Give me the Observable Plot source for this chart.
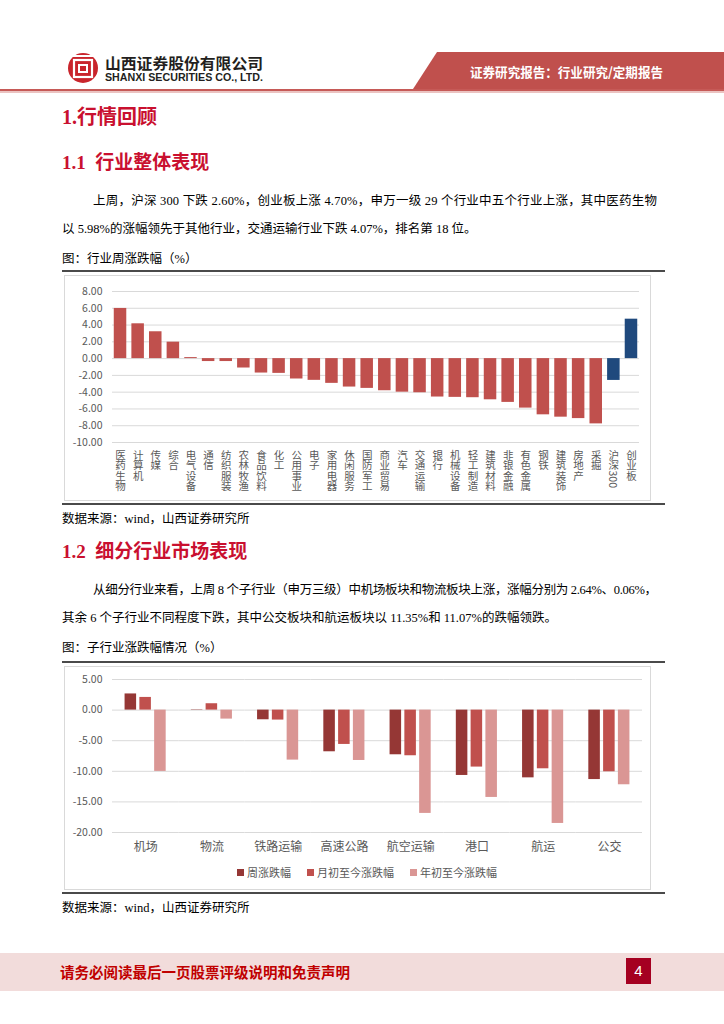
<!DOCTYPE html>
<html><head><meta charset="utf-8">
<script src="https://cdn.jsdelivr.net/npm/d3@7"></script>
<script src="https://cdn.jsdelivr.net/npm/@observablehq/plot@0.6"></script>
<style>
html,body{margin:0;padding:0;background:#fff}
body{width:724px;height:1024px;position:relative;overflow:hidden;font-family:"Liberation Serif","Noto Sans CJK SC",serif;color:#000}
.t{position:absolute;white-space:nowrap}
.h1{font-size:20px;line-height:24px;font-weight:bold;color:#C9102F}
.h2{font-size:19px;line-height:24px;font-weight:bold;color:#C9102F}
.p{font-size:12.5px;line-height:16px}
.cap{font-size:12.5px;line-height:16px;font-family:"Liberation Serif","Noto Sans CJK SC",sans-serif}
.dark{position:absolute;left:62px;width:603px;height:2px;background:#4a4a4a}
.box{position:absolute;left:64px;width:587px;border:1px solid #D9D9D9;box-sizing:border-box}
.chart{position:absolute;left:64px}
.legend{position:absolute;top:864px;left:237px;height:16px;display:flex;align-items:center;font-family:"Noto Sans CJK SC",sans-serif;font-size:11px;color:#595959}
.legend span.sw{display:inline-block;width:7px;height:7px;margin-right:3px}
.legend span.item{display:inline-flex;align-items:center;margin-right:16px}
</style></head>
<body>
<svg class="t" style="left:0;top:0" width="724" height="100">
  <circle cx="83" cy="68" r="15" fill="#C9252C"/>
  <rect x="74" y="60" width="18" height="17" fill="none" stroke="#fff" stroke-width="2.2"/>
  <rect x="79" y="65" width="8" height="7" fill="none" stroke="#fff" stroke-width="2"/>
  <line x1="71" y1="56" x2="95" y2="56" stroke="#fff" stroke-width="2"/>
  <text x="105" y="69" textLength="158" lengthAdjust="spacingAndGlyphs" font-family="Noto Sans CJK SC" font-weight="bold" font-size="15" fill="#231F20">山西证券股份有限公司</text>
  <text x="105" y="81" textLength="158" lengthAdjust="spacingAndGlyphs" font-family="Liberation Sans" font-weight="bold" font-size="11" fill="#231F20">SHANXI SECURITIES CO., LTD.</text>
  <polygon points="437,52 724,52 724,89 413,89" fill="#C0504D"/>
  <text x="470" y="77" textLength="193" lengthAdjust="spacingAndGlyphs" font-family="Noto Sans CJK SC" font-weight="bold" font-size="13" fill="#fff">证券研究报告：行业研究/定期报告</text>
  <rect x="0" y="89" width="724" height="2" fill="#C65A57"/>
  <rect x="0" y="91" width="724" height="2" fill="#EBC3C1"/>
</svg>

<div class="t h1" style="left:62px;top:105px">1.行情回顾</div>
<div class="t h2" style="left:62px;top:151px">1.1&nbsp;&nbsp;行业整体表现</div>
<svg class="t" style="left:93px;top:190px" width="570" height="20"><text x="0" y="14.5" textLength="564" lengthAdjust="spacing" font-family="Liberation Serif, Noto Sans CJK SC" font-size="12.5" fill="#000">上周，沪深 300 下跌 2.60%，创业板上涨 4.70%，申万一级 29 个行业中五个行业上涨，其中医药生物</text></svg>
<div class="t p" style="left:62px;top:221px">以 5.98%的涨幅领先于其他行业，交通运输行业下跌 4.07%，排名第 18 位。</div>
<div class="t cap" style="left:62px;top:251px">图：行业周涨跌幅（%）</div>
<div class="dark" style="top:270px"></div>
<div class="box" style="top:275px;height:226px"></div>
<div class="chart" id="chart1" style="top:275px"></div>
<div class="dark" style="top:503px"></div>
<div class="t cap" style="left:62px;top:511px">数据来源：wind，山西证券研究所</div>

<div class="t h2" style="left:62px;top:540px">1.2&nbsp;&nbsp;细分行业市场表现</div>
<svg class="t" style="left:93px;top:579px" width="570" height="20"><text x="0" y="14.5" textLength="564" lengthAdjust="spacing" font-family="Liberation Serif, Noto Sans CJK SC" font-size="12.5" fill="#000">从细分行业来看，上周 8 个子行业（申万三级）中机场板块和物流板块上涨，涨幅分别为 2.64%、0.06%，</text></svg>
<div class="t p" style="left:62px;top:610px">其余 6 个子行业不同程度下跌，其中公交板块和航运板块以 11.35%和 11.07%的跌幅领跌。</div>
<div class="t cap" style="left:62px;top:640px">图：子行业涨跌幅情况（%）</div>
<div class="dark" style="top:661px"></div>
<div class="box" style="top:666px;height:224px"></div>
<div class="chart" id="chart2" style="top:666px"></div>
<div class="legend" id="legend2"></div>
<div class="dark" style="top:892px"></div>
<div class="t cap" style="left:62px;top:900px">数据来源：wind，山西证券研究所</div>

<div class="t" style="left:0;top:953px;width:724px;height:38px;background:#F2DCDB"></div>
<div class="t" style="left:60px;top:963px;font-family:'Noto Sans CJK SC';font-weight:bold;font-size:14.5px;line-height:18px;color:#C00000">请务必阅读最后一页股票评级说明和免责声明</div>
<div class="t" style="left:626px;top:958px;width:25px;height:26px;background:#A50021;color:#fff;font-family:'Liberation Sans';font-size:15px;line-height:26px;text-align:center">4</div>

<script>
// ---------- Chart 1 data ----------
const industries = ["医药生物","计算机","传媒","综合","电气设备","通信","纺织服装","农林牧渔","食品饮料","化工","公用事业","电子","家用电器","休闲服务","国防军工","商业贸易","汽车","交通运输","银行","机械设备","轻工制造","建筑材料","非银金融","有色金属","钢铁","建筑装饰","房地产","采掘","沪深300","创业板"];
const weeklyChange = [5.98,4.15,3.20,1.96,0.12,-0.35,-0.35,-1.12,-1.72,-1.76,-2.43,-2.59,-2.95,-3.39,-3.55,-3.83,-4.00,-4.07,-4.58,-4.62,-4.66,-4.91,-5.22,-5.90,-6.70,-6.98,-7.15,-7.78,-2.60,4.70];
const indexNames = ["沪深300","创业板"];
const yTicks1 = [8,6,4,2,0,-2,-4,-6,-8,-10];

// ---------- Chart 2 data ----------
const subIndustries = ["机场","物流","铁路运输","高速公路","航空运输","港口","航运","公交"];
const seriesNames = ["周涨跌幅","月初至今涨跌幅","年初至今涨跌幅"];
const seriesColors = ["#953735","#C0504D","#DA9694"];
const weekly = [2.64,0.06,-1.58,-6.81,-7.30,-10.68,-11.07,-11.35];
const monthToDate = [2.07,1.04,-1.63,-5.61,-7.46,-9.31,-9.59,-10.08];
const yearToDate = [-10.02,-1.47,-8.17,-8.23,-16.88,-14.27,-18.52,-12.20];
const yTicks2 = [5,0,-5,-10,-15,-20];

const fmt = d => d.toFixed(2);
const font = '"Noto Sans CJK SC", sans-serif';

// Chart 1
const data1 = industries.map((name, i) => ({name, value: weeklyChange[i], group: indexNames.includes(name) ? "index" : "industry"}));
const plot1 = Plot.plot({
  width: 587, height: 226,
  marginTop: 16, marginBottom: 59, marginLeft: 48, marginRight: 12,
  style: {fontFamily: font, fontSize: "10.5px", color: "#595959", background: "transparent", overflow: "visible"},
  x: {domain: industries, paddingInner: 0.29, paddingOuter: 0.1, round: false, axis: null},
  y: {domain: [-10, 8], axis: null},
  color: {domain: ["industry", "index"], range: ["#C0504D", "#1F497D"]},
  marks: [
    Plot.gridY(yTicks1, {stroke: "#D9D9D9", strokeOpacity: 1}),
    Plot.axisY(yTicks1, {tickSize: 0, tickPadding: 10, tickFormat: fmt, fill: "#595959", label: null}),
    Plot.barY(data1, {x: "name", y: "value", fill: "group"}),
    Plot.axisX({tickSize: 0, tickPadding: 7, fill: "#595959", label: null})
  ]
});
document.getElementById("chart1").appendChild(plot1);
plot1.querySelectorAll('g[aria-label="x-axis tick label"] text').forEach(t => {
  t.setAttribute("writing-mode", "vertical-rl");
  t.setAttribute("text-anchor", "start");
  t.setAttribute("dominant-baseline", "central");
  t.removeAttribute("dy");
  t.removeAttribute("y");
  t.style.textOrientation = "mixed";
});

// Chart 2
const data2 = [];
subIndustries.forEach((c, i) => {
  data2.push({category: c, series: seriesNames[0], value: weekly[i]});
  data2.push({category: c, series: seriesNames[1], value: monthToDate[i]});
  data2.push({category: c, series: seriesNames[2], value: yearToDate[i]});
});
const plot2 = Plot.plot({
  width: 587, height: 224,
  marginTop: 13, marginBottom: 58, marginLeft: 48, marginRight: 9,
  style: {fontFamily: font, fontSize: "10.5px", color: "#595959", background: "transparent", overflow: "visible"},
  fx: {domain: subIndustries, padding: 0, round: false, label: null, axis: null},
  x: {domain: seriesNames, paddingInner: 0.22, paddingOuter: 0.85, round: false, axis: null},
  y: {domain: [-20, 5], axis: null},
  color: {domain: seriesNames, range: seriesColors},
  marks: [
    Plot.gridY(yTicks2, {stroke: "#D9D9D9", strokeOpacity: 1}),
    Plot.axisY(yTicks2, {tickSize: 0, tickPadding: 10, tickFormat: fmt, fill: "#595959", label: null}),
    Plot.barY(data2, {fx: "category", x: "series", y: "value", fill: "series"}),
    Plot.axisFx({anchor: "bottom", tickSize: 0, tickPadding: 10, fontSize: 12, fill: "#595959", label: null})
  ]
});
document.getElementById("chart2").appendChild(plot2);

// Legend for chart 2
const lg = document.getElementById("legend2");
seriesNames.forEach((s, i) => {
  const item = document.createElement("span");
  item.className = "item";
  const sw = document.createElement("span");
  sw.className = "sw";
  sw.style.background = seriesColors[i];
  item.appendChild(sw);
  item.appendChild(document.createTextNode(s));
  lg.appendChild(item);
});
</script>
</body></html>
